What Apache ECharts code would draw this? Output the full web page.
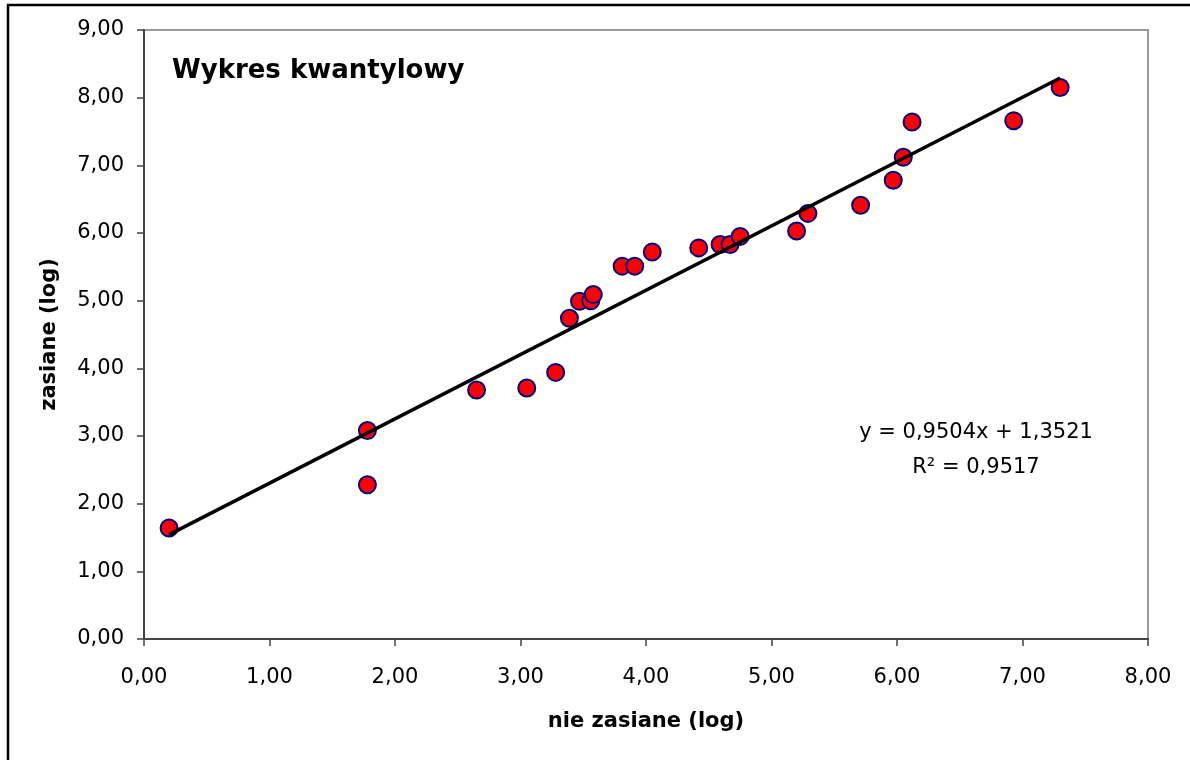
<!DOCTYPE html>
<html>
<head>
<meta charset="utf-8">
<script src="https://cdn.jsdelivr.net/npm/echarts@6/dist/echarts.min.js"></script>
<style>
  html, body { margin: 0; padding: 0; background: #ffffff; }
  #chart { width: 1190px; height: 760px; }
</style>
</head>
<body>
<div id="chart"></div>
<script>
// quantiles
const xValues = [0.20, 1.78, 1.78, 2.65, 3.05, 3.28, 3.39, 3.47, 3.56, 3.58,
  3.81, 3.91, 4.05, 4.42, 4.59, 4.67, 4.75, 5.20, 5.29, 5.71,
  5.97, 6.05, 6.12, 6.93, 7.30];
const yValues = [1.64, 2.28, 3.08, 3.68, 3.71, 3.94, 4.74, 4.99, 5.00, 5.09,
  5.51, 5.51, 5.72, 5.78, 5.83, 5.83, 5.95, 6.03, 6.29, 6.41,
  6.78, 7.12, 7.64, 7.66, 8.15];
// trend line shown on the chart
const slope = 0.9504;
const intercept = 1.3521;
const rSquared = 0.9517;

const titleText = "Wykres kwantylowy";
const xName = "nie zasiane (log)";
const yName = "zasiane (log)";

const fmt = (v, d) => v.toFixed(d).replace(".", ",");

const points = xValues.map((x, i) => [x, yValues[i]]);
const xMin = Math.min(...xValues);
const xMax = Math.max(...xValues);
const trend = [xMin, xMax].map((x) => [x, slope * x + intercept]);

const font = "DejaVu Sans";

var myChart = echarts.init(document.getElementById("chart"));

var option = {
  backgroundColor: "#ffffff",
  animation: false,
  title: {
    text: titleText,
    left: 167,
    top: 53,
    textStyle: {
      fontFamily: font,
      fontSize: 26,
      fontWeight: "bold",
      color: "#000000",
    },
  },
  grid: {
    show: true,
    left: 144,
    top: 30,
    right: 42,
    bottom: 121,
    borderColor: "#999999",
    borderWidth: 2,
    containLabel: false,
  },
  xAxis: {
    type: "value",
    min: 0,
    max: 8,
    interval: 1,
    name: xName,
    nameLocation: "middle",
    nameGap: 72,
    nameTextStyle: {
      fontFamily: font,
      fontSize: 21,
      fontWeight: "bold",
      color: "#000000",
    },
    axisLine: { onZero: false, lineStyle: { color: "#444444", width: 2 } },
    axisTick: { show: true, inside: false, length: 7, lineStyle: { color: "#444444", width: 1.5 } },
    splitLine: { show: false },
    axisLabel: {
      margin: 28,
      fontFamily: font,
      fontSize: 21,
      color: "#000000",
      formatter: (v) => fmt(v, 2),
    },
  },
  yAxis: {
    type: "value",
    min: 0,
    max: 9,
    interval: 1,
    name: yName,
    nameLocation: "middle",
    nameGap: 84,
    nameTextStyle: {
      fontFamily: font,
      fontSize: 21,
      fontWeight: "bold",
      color: "#000000",
    },
    axisLine: { show: true, onZero: false, lineStyle: { color: "#444444", width: 2 } },
    axisTick: { show: true, inside: false, length: 7, lineStyle: { color: "#444444", width: 1.5 } },
    splitLine: { show: false },
    axisLabel: {
      margin: 20,
      fontFamily: font,
      fontSize: 21,
      color: "#000000",
      formatter: (v) => fmt(v, 2),
    },
  },
  graphic: [
    {
      type: "rect",
      shape: { x: 8, y: 5, width: 1200, height: 800 },
      style: { fill: "none", stroke: "#000000", lineWidth: 2.5 },
      silent: true,
      z: 100,
    },
    {
      type: "text",
      x: 976,
      y: 433,
      style: {
        text: "y = " + fmt(slope, 4) + "x + " + fmt(intercept, 4),
        fontFamily: font,
        fontSize: 21,
        fill: "#000000",
        align: "center",
        verticalAlign: "middle",
      },
    },
    {
      type: "text",
      x: 976,
      y: 468,
      style: {
        text: "R\u00b2 = " + fmt(rSquared, 4),
        fontFamily: font,
        fontSize: 21,
        fill: "#000000",
        align: "center",
        verticalAlign: "middle",
      },
    },
  ],
  series: [
    {
      name: "kwantyle",
      type: "scatter",
      data: points,
      symbol: "circle",
      symbolSize: 17,
      itemStyle: {
        color: "#ff0000",
        borderColor: "#000080",
        borderWidth: 2,
        opacity: 1,
      },
      z: 2,
    },
    {
      name: "trend",
      type: "line",
      data: trend,
      showSymbol: false,
      symbol: "none",
      lineStyle: { color: "#000000", width: 3.5 },
      z: 3,
    },
  ],
};
myChart.setOption(option);
</script>
</body>
</html>
